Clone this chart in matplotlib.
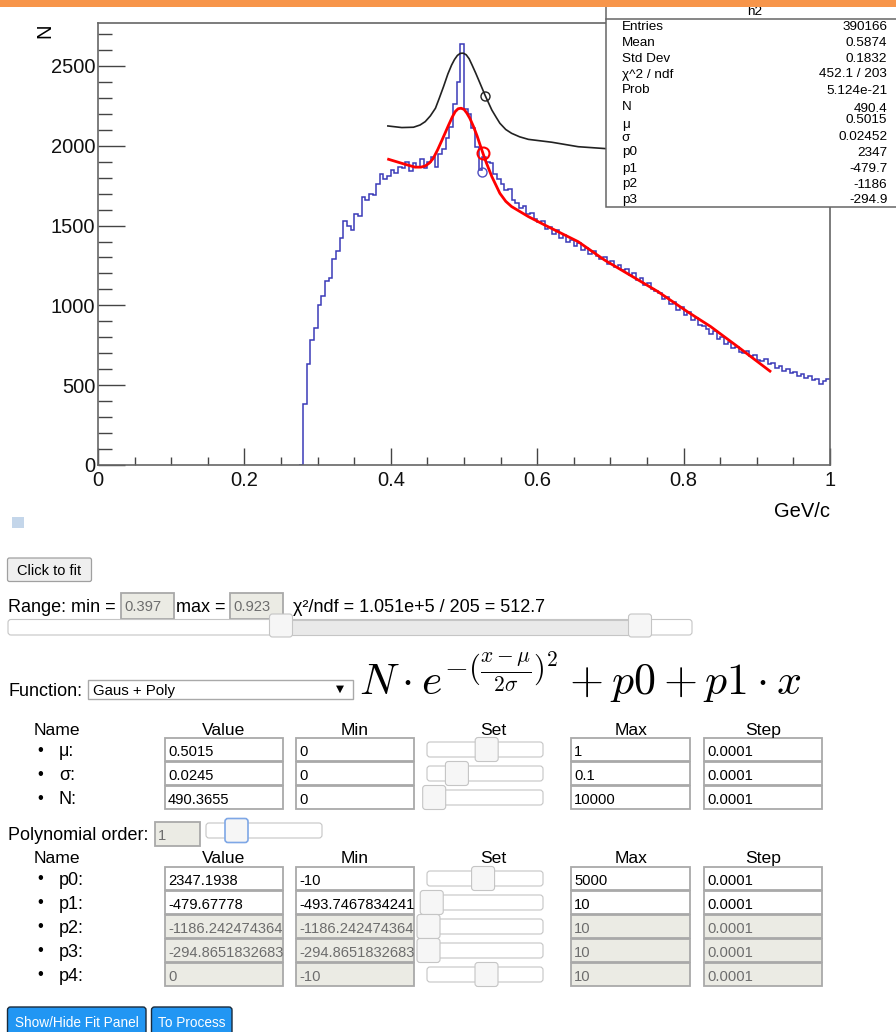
import numpy as np
import matplotlib
matplotlib.use("Agg")
import matplotlib.pyplot as plt
from matplotlib.patches import Rectangle, FancyBboxPatch
from matplotlib.ticker import MultipleLocator

FONT = ["Liberation Sans", "DejaVu Sans"]
plt.rcParams["font.family"] = FONT
plt.rcParams["mathtext.fontset"] = "cm"

# histogram h2, bin contents (0.005 wide bins from 0.275)
hist_lo = 0.275
hist_bin = 0.005
hist_counts = [
    0, 380, 630, 780, 860, 1000, 1060, 1150, 1170, 1290,
    1340, 1420, 1530, 1500, 1470, 1570, 1560, 1680, 1660, 1700,
    1690, 1760, 1820, 1790, 1810, 1850, 1830, 1870, 1860, 1900,
    1840, 1890, 1870, 1920, 1860, 1900, 1930, 1870, 1950, 1980,
    2050, 2120, 2260, 2400, 2640, 2230, 2200, 2110, 1990, 1850,
    1930, 1900, 1890, 1820, 1790, 1760, 1720, 1730, 1660, 1640,
    1610, 1620, 1570, 1580, 1540, 1520, 1530, 1480, 1490, 1450,
    1470, 1420, 1440, 1400, 1410, 1370, 1390, 1350, 1360, 1320,
    1340, 1310, 1290, 1300, 1260, 1280, 1240, 1250, 1220, 1230,
    1190, 1200, 1160, 1170, 1130, 1140, 1100, 1090, 1080, 1040,
    1050, 1010, 1020, 970, 990, 940, 960, 910, 920, 880,
    870, 850, 820, 840, 790, 800, 760, 770, 730, 740,
    710, 700, 715, 680, 690, 660, 650, 665, 630, 640,
    610, 620, 590, 600, 575, 580, 560, 570, 545, 555,
    530, 540, 510, 525, 540,
]

# fitted function (red) and starting guess (black)
fit_x = [0.397, 0.415, 0.433, 0.441, 0.447, 0.453, 0.458, 0.464, 0.470, 0.475,
         0.479, 0.484, 0.488, 0.492, 0.496, 0.500, 0.504, 0.508, 0.513, 0.518,
         0.522, 0.529, 0.538, 0.549, 0.557, 0.565, 0.588, 0.610, 0.656, 0.692,
         0.765, 0.805, 0.837, 0.874, 0.918]
fit_y = [1915, 1890, 1866, 1866, 1873, 1893, 1921, 1975, 2036, 2088,
         2130, 2180, 2214, 2232, 2235, 2228, 2204, 2172, 2120, 2060,
         2005, 1911, 1807, 1702, 1652, 1619, 1556, 1504, 1399, 1284,
         1086, 961, 867, 741, 588]
guess_x = [0.396, 0.415, 0.431, 0.440, 0.447, 0.454, 0.461, 0.466, 0.472, 0.478,
           0.483, 0.487, 0.491, 0.495, 0.499, 0.503, 0.507, 0.511, 0.516, 0.520,
           0.529, 0.538, 0.544, 0.549, 0.557, 0.565, 0.576, 0.588, 0.620, 0.656,
           0.700]
guess_y = [2124, 2114, 2116, 2130, 2151, 2187, 2235, 2295, 2370, 2450,
           2505, 2540, 2566, 2579, 2580, 2570, 2545, 2506, 2455, 2412,
           2314, 2224, 2178, 2141, 2102, 2078, 2056, 2040, 2022, 1994,
           1980]
guess_mark = (0.5288, 2314)
fit_mark = (0.5265, 1955)
hist_mark = (0.5243, 1838)

x_ticks = [0, 0.2, 0.4, 0.6, 0.8, 1.0]
x_tick_labels = ["0", "0.2", "0.4", "0.6", "0.8", "1"]
y_ticks = [0, 500, 1000, 1500, 2000, 2500]
y_max = 2769

stat_names = ["Entries", "Mean", "Std Dev", "χ^2 / ndf", "Prob", "N",
              "μ", "σ", "p0", "p1", "p2", "p3"]
stat_values = ["390166", "0.5874", "0.1832", "452.1 / 203", "5.124e-21", "490.4",
               "0.5015", "0.02452", "2347", "-479.7", "-1186", "-294.9"]

# fit panel
range_min = "0.397"
range_max = "0.923"
chi2_text = "χ²/ndf = 1.051e+5 / 205 = 512.7"
func_name = "Gaus + Poly"
formula = r"$N\cdot e^{-(\frac{x-\mu}{2\sigma})^2}+p0+p1\cdot x$"

col_heads = ["Name", "Value", "Min", "Set", "Max", "Step"]
gaus_names = ["μ:", "σ:", "N:"]
gaus_value = ["0.5015", "0.0245", "490.3655"]
gaus_min = ["0", "0", "0"]
gaus_max = ["1", "0.1", "10000"]
gaus_step = ["0.0001", "0.0001", "0.0001"]

poly_order = 1
poly_order_max = 4
poly_names = ["p0:", "p1:", "p2:", "p3:", "p4:"]
poly_value = ["2347.1938", "-479.67778", "-1186.2424743640", "-294.86518326831", "0"]
poly_min = ["-10", "-493.74678342417", "-1186.2424743640", "-294.86518326831", "-10"]
poly_max = ["5000", "10", "10", "10", "10"]
poly_step = ["0.0001"] * 5
poly_active = [True, True, False, False, False]


def box(a, x0, y0, x1, y1, fc="white", ec="#a9a9a9", lw=1.2, r=0, z=2):
    if r:
        p = FancyBboxPatch((x0, y0), x1 - x0, y1 - y0,
                           boxstyle=f"round,pad=0,rounding_size={r}",
                           fc=fc, ec=ec, lw=lw, zorder=z)
    else:
        p = Rectangle((x0, y0), x1 - x0, y1 - y0, fc=fc, ec=ec, lw=lw, zorder=z)
    a.add_patch(p)
    return p


def label(x, y, s, size=13, color="black", ha="left", a=None, **kw):
    a = a or bg
    return a.text(x, y, s, fontsize=size, color=color, ha=ha, va="baseline",
                  zorder=4, **kw)


def field(x0, y0, x1, y1, s, disabled=False, base=None, size=10.6):
    p = box(bg, x0, y0, x1, y1, fc="#ebebe4" if disabled else "white",
            ec="#a9a9a9", lw=1.3)
    t = label(x0 + 3, base if base else y1 - 5, s, size=size,
              color="#6d6d6d" if disabled else "black", clip_on=True)
    t.set_clip_path(p)


def slider(x0, x1, yc, frac, focus=False):
    box(bg, x0, yc - 7.5, x1, yc + 7.5, fc="white", ec="#c5c5c5", lw=0.8, r=3)
    hx = x0 + 1.5 + frac * (x1 - x0)
    box(bg, hx - 11.5, yc - 12, hx + 11.5, yc + 12, fc="#f6f6f6",
        ec="#7ea7e6" if focus else "#c5c5c5", lw=1.2 if focus else 0.8, r=3, z=3)


def table(head_base, top_y, names, values, mins, maxs, steps, active):
    for x, s in zip([57, 224, 355, 493, 631, 763], col_heads):
        label(x, head_base, s, size=12.6, ha="center")
    for i, name in enumerate(names):
        y0 = top_y + 24 * i
        y1 = y0 + 23
        dis = not active[i]
        label(40, y1 - 6.5, "•", size=12, ha="center")
        label(59, y1 - 5, name, size=13)
        field(165, y0, 283, y1, values[i], dis)
        field(296, y0, 414, y1, mins[i], dis)
        lo, hi = float(mins[i]), float(maxs[i])
        slider(427, 543, (y0 + y1) / 2, (float(values[i]) - lo) / (hi - lo))
        field(571, y0, 690, y1, maxs[i], dis)
        field(704, y0, 822, y1, steps[i], dis)


fig = plt.figure(figsize=(8.96, 10.32), dpi=100)
fig.patch.set_facecolor("white")

bg = fig.add_axes([0, 0, 1, 1], zorder=0)
bg.set_xlim(0, 896)
bg.set_ylim(1032, 0)
bg.axis("off")

# histogram pad
ax = fig.add_axes([98 / 896, 1 - 465 / 1032, 732 / 896, 442 / 1032], zorder=1)
edges = hist_lo + hist_bin * np.arange(len(hist_counts) + 1)
ax.stairs(hist_counts, edges, baseline=None, color="#3a3ab8", lw=1.1)
ax.plot(guess_x, guess_y, color="#222222", lw=1.2)
ax.plot(fit_x, fit_y, color="#ff0000", lw=2.0)
ax.plot(*guess_mark, "o", mfc="none", mec="#222222", ms=6.5, mew=1.0)
ax.plot(*fit_mark, "o", mfc="none", mec="#ff0000", ms=8.6, mew=1.5)
ax.plot(*hist_mark, "o", mfc="none", mec="#5050c0", ms=6.5, mew=1.0)

ax.set_xlim(0, 1)
ax.set_ylim(0, y_max)
ax.set_xticks(x_ticks)
ax.set_xticklabels(x_tick_labels)
ax.xaxis.set_minor_locator(MultipleLocator(0.05))
ax.set_yticks(y_ticks)
ax.yaxis.set_minor_locator(MultipleLocator(100))
ax.tick_params(which="both", direction="in", color="#444444", width=1.0,
               labelsize=14.5, labelcolor="#111111", top=False, right=False)
ax.tick_params(axis="x", which="major", length=12.2, pad=4)
ax.tick_params(axis="x", which="minor", length=6)
ax.tick_params(axis="y", which="major", length=19.5, pad=2)
ax.tick_params(axis="y", which="minor", length=10)
for sp in ax.spines.values():
    sp.set_color("#666666")
    sp.set_linewidth(1.2)

bg.text(45, 31, "N", rotation=90, fontsize=14.5, ha="center", va="center")
label(830, 517, "GeV/c", size=14.5, ha="right")
box(bg, 12, 517, 24, 528, fc="#c4d6ea", ec="none")

# fit panel controls
box(bg, 7.5, 558, 91.5, 581.5, fc="#efefef", ec="#a0a0a0", lw=0.9, r=2)
label(49.5, 575, "Click to fit", size=10.5, ha="center")

label(8, 612, "Range: min =", 13)
field(121, 593, 174, 619, range_min, disabled=True, base=611)
label(176, 612, "max =", 13)
field(230, 593, 283, 619, range_max, disabled=True, base=611)
label(293, 612, chi2_text, 13)
box(bg, 8, 619.5, 692, 635, fc="white", ec="#c5c5c5", lw=0.8, r=3)
box(bg, 281, 619.5, 640, 635, fc="#e9e9e9", ec="#c5c5c5", lw=0.8)
for hx in (281, 640):
    box(bg, hx - 11.5, 614, hx + 11.5, 637, fc="#f6f6f6", ec="#c5c5c5", lw=0.8, r=3, z=3)

label(8, 696, "Function:", 13)
box(bg, 87.5, 680, 352.5, 698.5, fc="white", ec="#a9a9a9", lw=1.0)
label(93, 695, func_name, size=10.8)
label(340, 692, "▼", size=7.5, ha="center", family="DejaVu Sans")
bg.text(359, 695, formula, fontsize=31.5, va="baseline")

table(735, 738, gaus_names, gaus_value, gaus_min, gaus_max, gaus_step, [True] * 3)

label(8, 840, "Polynomial order:", 13)
field(155, 822, 200, 845.5, str(poly_order), disabled=True, base=840)
slider(206, 322, 830.5, poly_order / poly_order_max, focus=True)

table(863, 867, poly_names, poly_value, poly_min, poly_max, poly_step, poly_active)

for x0, x1, s in [(7.5, 146, "Show/Hide Fit Panel"), (151.5, 232, "To Process")]:
    box(bg, x0, 1007, x1, 1040, fc="#2196f3", ec="#1a2a3a", lw=1.0, r=3)
    label((x0 + x1) / 2, 1027, s, size=9.8, color="white", ha="center")

# stats box and page header on top of the pad
top = fig.add_axes([0, 0, 1, 1], zorder=2)
top.set_xlim(0, 896)
top.set_ylim(1032, 0)
top.axis("off")
box(top, 606, 3, 905, 206.7, fc="white", ec="#666666", lw=1.1, z=5)
top.plot([606, 905], [19.3, 19.3], color="#666666", lw=1.1, zorder=6)
top.text(755, 15, "h2", fontsize=9.7, ha="center", va="baseline", zorder=6)
name_base = [30, 45.7, 62.3, 78.3, 93.3, 110, 127.7, 140.7, 155.5, 171.7, 187.3, 202.7]
value_base = [30, 45.7, 62.3, 77.3, 94, 111.7, 123.3, 140, 155.7, 172.3, 187.7, 203.3]
for n, v, yn, yv in zip(stat_names, stat_values, name_base, value_base):
    top.text(621.7, yn, n, fontsize=9.7, va="baseline", zorder=6)
    top.text(887.3, yv, v, fontsize=9.7, ha="right", va="baseline", zorder=6)
box(top, -1, -1, 897, 7, fc="#f7954a", ec="none", z=10)

fig.savefig("out.png", dpi=100, facecolor="white")
